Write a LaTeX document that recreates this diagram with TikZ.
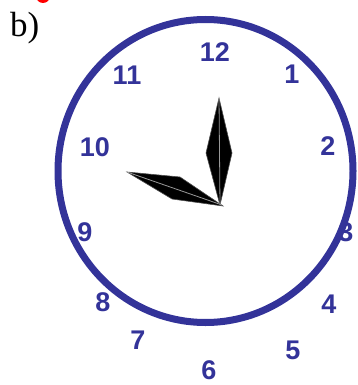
\documentclass[tikz,border=0pt]{standalone}
\usepackage{fontspec}
\setmainfont{Liberation Serif}
\newfontfamily\numfont{Liberation Sans}
\definecolor{clockblue}{HTML}{333399}
\definecolor{handred}{HTML}{FF0000}
\tikzset{
  num/.style={font=\numfont\bfseries\fontsize{27}{27}\selectfont, text=clockblue, inner sep=0pt},
  hand/.style={fill=black, draw=black!70, line width=0.6pt, line join=miter},
  midline/.style={draw=black!40, line width=0.8pt},
  rim/.style={draw=clockblue, line width=7pt}
}
\begin{document}
\begin{tikzpicture}[x=1pt,y=-1pt]
\useasboundingbox (0,0) rectangle (357,385);
% red fragment at top
\begin{scope}
\clip (0,0) rectangle (357,385);
\fill[handred] (43,-4) ellipse (7 and 7);
\end{scope}
\node[font=\fontsize{35}{35}\selectfont, anchor=base west, inner sep=0pt] (lab) at (10,37) {b)};
% numbers
\node[num] (n12) at (215,52) {12};
\node[num] (n1) at (292,74) {1};
\node[num] (n2) at (328,146) {2};
\node[num] (n3) at (346,232) {3};
\node[num] (n4) at (329,304) {4};
\node[num] (n5) at (293,350) {5};
\node[num] (n6) at (209,370.5) {6};
\node[num] (n7) at (138,340) {7};
\node[num] (n8) at (103,302) {8};
\node[num] (n9) at (85,232) {9};
\node[num] (n10) at (95,147) {10};
\node[num] (n11) at (127,75) {11};
% rim
\coordinate (c) at (205.5,171);
\draw[rim] (c) ellipse (147.5 and 151.5);
% hands
\coordinate (pivot) at (220,205);
\coordinate (mtip) at (219,98);
\coordinate (htip) at (127,172);
\draw[hand] (mtip) -- (206,153) -- (pivot) -- (232,153) -- cycle;
\draw[hand] (htip) -- (180,177) -- (223,206) -- (172,199) -- cycle;
\draw[midline] (mtip) -- (pivot);
\draw[midline] (htip) -- (222,205);
\end{tikzpicture}
\end{document}
